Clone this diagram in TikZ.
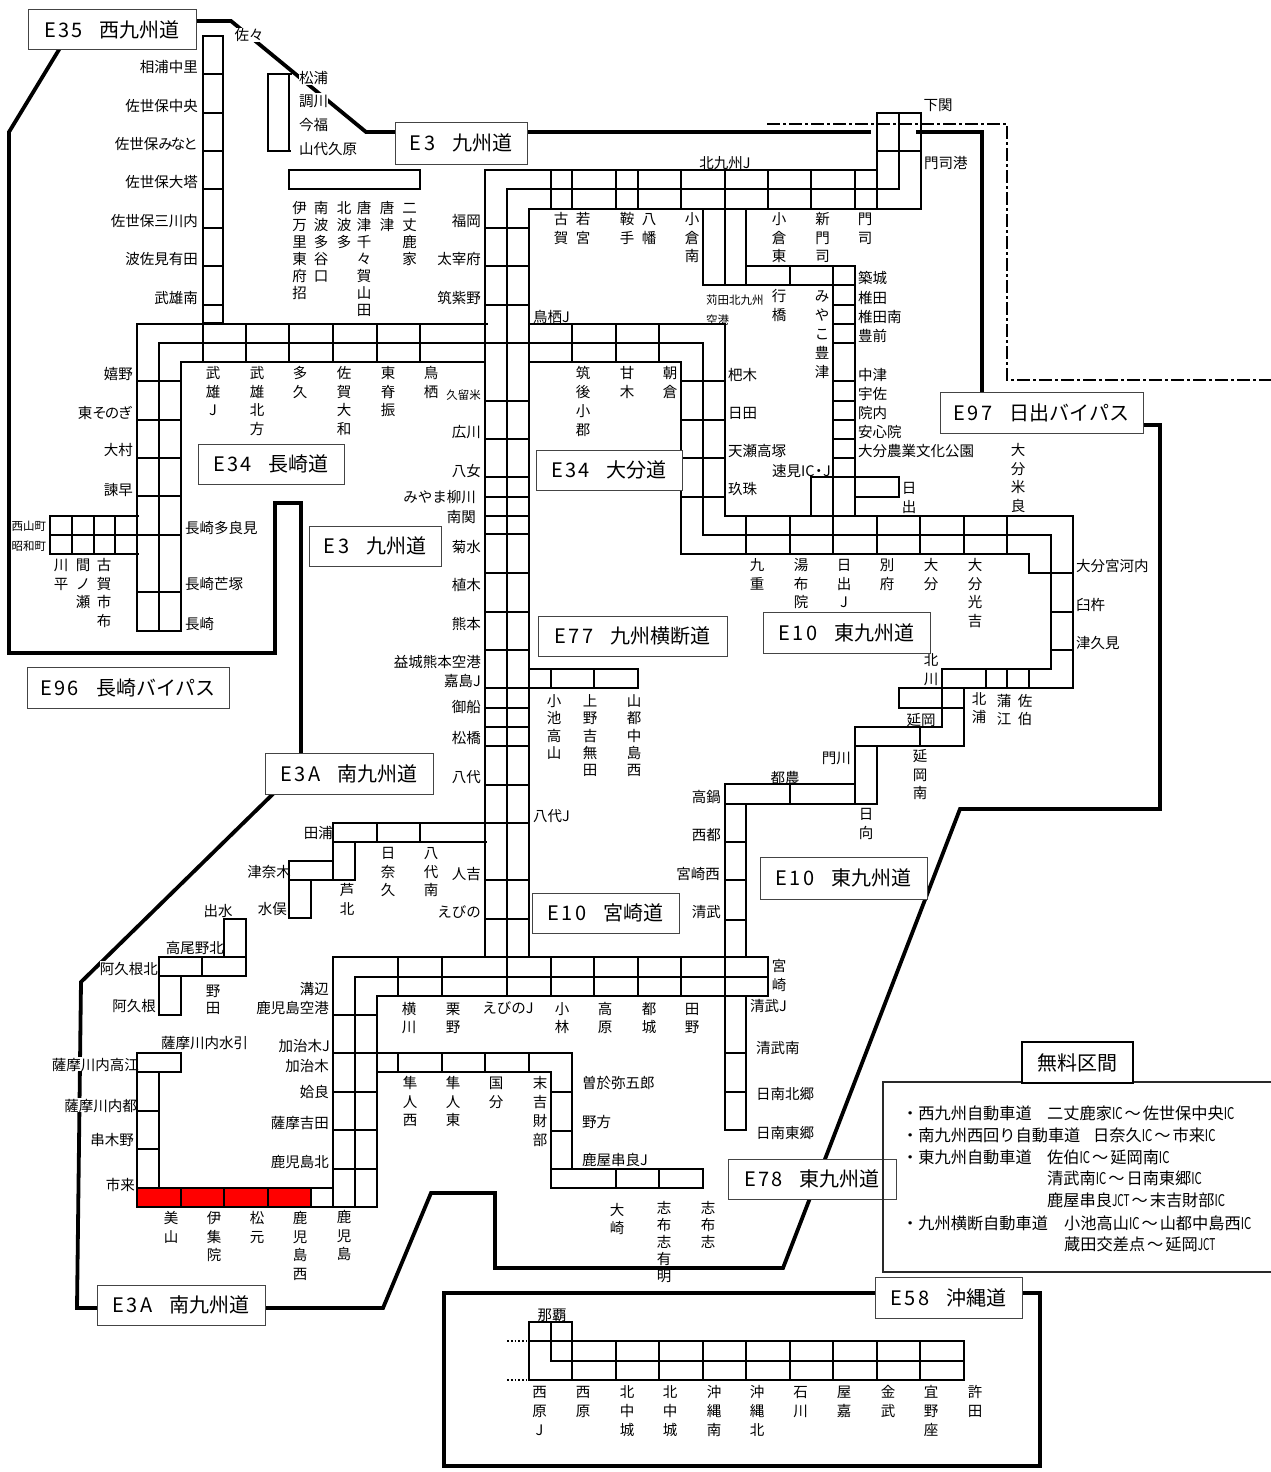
\documentclass[tikz,border=0pt]{standalone}
\usepackage{fontspec}
\setmainfont{Noto Sans CJK JP}
\newfontfamily\jpsp[LetterSpace=12]{Noto Sans CJK JP}
\newcounter{lb}
\definecolor{bxc}{HTML}{444444}
\tikzset{
  rd/.style={line width=2pt,black,line cap=rect,line join=miter},
  thk/.style={line width=3.8pt,black,line join=miter},
  lab/.style={inner sep=0pt,text height=13pt,text depth=1pt,font=\fontsize{14.5}{17}\selectfont},
  wlab/.style={lab,fill=white},
  small/.style={lab,font=\fontsize{11.5}{13}\selectfont},
  freetxt/.style={inner sep=0pt,anchor=west,text height=13pt,text depth=1pt,font=\fontsize{16.2}{20}\selectfont},
  hbox/.style={draw=bxc,line width=1pt,fill=white,inner sep=0pt,font=\fontsize{20}{24}\selectfont},
}
\newcommand{\RL}[4][]{\stepcounter{lb}\node[lab,anchor=east,#1] (L\arabic{lb}) at (#2,#3) {#4};}
\newcommand{\WL}[4][]{\stepcounter{lb}\node[lab,anchor=west,#1] (L\arabic{lb}) at (#2,#3) {#4};}
\newcommand{\CL}[4][]{\stepcounter{lb}\node[lab,#1] (L\arabic{lb}) at (#2,#3) {#4};}
\newcommand{\VL}[4]{\stepcounter{lb}\node[inner sep=0pt,anchor=north,align=center,font={\fontsize{14.5}{#3}\selectfont}] (L\arabic{lb}) at (#1,{#2-6}) {\rule{0pt}{12.5pt}#4};}
\newcommand{\BX}[7]{\node[hbox,minimum width={(#4-#2)*1pt},minimum height={(#5-#3)*1pt}] (#1) at ({(#2+#4)/2},{(#3+#5)/2}) {{\jpsp #6}\hspace{17pt}#7};}
\newcommand{\ICs}{\scalebox{0.7}[1]{IC}}
\newcommand{\JCT}{\scalebox{0.62}[1]{JCT}}
\newcommand{\wv}{\hspace{2pt}〜\hspace{2pt}}
\begin{document}
\begin{tikzpicture}[x=1pt,y=-1pt]
\useasboundingbox (0,0) rectangle (1271,1472);
\fill[white] (0,0) rectangle (1271,1472);
% red section
\fill[red] (137,1188) rectangle (311,1207);
% thick roads
\draw[thk] (60,48) -- (9,132) -- (9,653) -- (275,653) -- (275,503) -- (301,503) -- (301,760);
\draw[thk] (277,790) -- (81,982) -- (77,1308) -- (100,1308);
\draw[thk] (260,1308) -- (383,1308) -- (431,1193) -- (495,1193) -- (495,1268) -- (783,1268) -- (960,809) -- (1160,809) -- (1160,425) -- (1140,425);
\draw[thk] (190,21) -- (231,21) -- (366,132) -- (400,132);
\draw[thk] (520,132) -- (871,132);
\draw[thk] (916,132) -- (982,132) -- (982,395);
\draw[thk] (880,1293) -- (444,1293) -- (444,1466) -- (1040,1466) -- (1040,1293) -- (1018,1293);
% dash-dot border
\draw[line width=1.5pt,dash pattern=on 13pt off 3pt on 3pt off 3pt] (767,124) -- (1007,124) -- (1007,380) -- (1271,380);
% labels that interrupt the thick roads
\node[wlab,anchor=center] (sasa) at (249,35) {佐々};
\node[wlab,anchor=west] (matsuura) at (299,78) {松浦};
\node[wlab,anchor=west] (choukawa) at (299,100) {調川};
\node[wlab,anchor=east] (akunekita) at (158,968) {阿久根北};
\node[wlab,anchor=east] (takae) at (139,1064) {薩摩川内高江};
\node[wlab,anchor=east] (miyako) at (137,1105) {薩摩川内都};
% E35
\draw[rd] (203,36) rectangle (223,323);
\foreach \y in {74,113,151,189,228,266,305} \draw[rd] (203,\y) -- (223,\y);
\draw[rd] (203,323) -- (203,362);
\draw[rd] (291,74) -- (268,74) -- (268,151) -- (290,151);
\draw[rd] (289,74) -- (289,151);
\draw[rd] (289,189) -- (289,170) -- (420,170) -- (420,189);
\draw[rd] (289,189) -- (420,189);
% E3 main
\draw[rd] (485,957) -- (485,170) -- (877,170);
\draw[rd] (507,996) -- (507,189) -- (899,189);
\draw[rd] (529,957) -- (529,209) -- (921,209);
\foreach \y in {228,266,305,401,439,477,497,516,534,573,612,650,688,708,727,746,785,823,880,919}
  \draw[rd] (485,\y) -- (529,\y);
\foreach \x in {551,572,616,638,681,768,811,855}
  \draw[rd] (\x,170) -- (\x,209);
\draw[rd] (877,209) -- (877,113) -- (921,113) -- (921,209);
\draw[rd] (899,113) -- (899,189);
\draw[rd] (877,151) -- (921,151);
\draw[rd] (725,170) -- (725,285);
\draw[rd] (703,209) -- (703,285) -- (855,285);
\draw[rd] (746,209) -- (746,285);
\draw[rd] (746,266) -- (855,266);
\draw[rd] (790,266) -- (790,285);
\draw[rd] (833,266) -- (833,516);
\draw[rd] (855,266) -- (855,516);
\foreach \y in {305,324,343,381,401,420,439,458,477} \draw[rd] (833,\y) -- (855,\y);
\draw[rd] (811,516) -- (811,477) -- (899,477) -- (899,497) -- (855,497);
% E34 Nagasaki
\draw[rd] (487,324) -- (137,324) -- (137,631) -- (181,631) -- (181,362) -- (485,362);
\draw[rd] (703,535) -- (703,343) -- (159,343) -- (159,631);
\foreach \x in {246,289,333,377,420} \draw[rd] (\x,324) -- (\x,362);
\foreach \y in {381,420,458,496,592} \draw[rd] (137,\y) -- (181,\y);
\draw[rd] (181,535) -- (50,535);
\draw[rd] (138,516) -- (50,516) -- (50,554) -- (138,554);
\foreach \x in {72,94,115} \draw[rd] (\x,516) -- (\x,554);
% E34 Oita
\draw[rd] (529,324) -- (725,324) -- (725,516) -- (1073,516) -- (1073,688) -- (899,688) -- (899,708) -- (964,708);
\draw[rd] (529,362) -- (681,362) -- (681,554) -- (1029,554) -- (1029,573) -- (1073,573);
\draw[rd] (703,535) -- (1051,535) -- (1051,669) -- (942,669) -- (942,727);
\foreach \x in {572,616,659} \draw[rd] (\x,324) -- (\x,362);
\foreach \y in {381,420,458,497} \draw[rd] (681,\y) -- (725,\y);
\foreach \x in {746,790,833,877,920,964,1007} \draw[rd] (\x,516) -- (\x,554);
\foreach \y in {612,650} \draw[rd] (1051,\y) -- (1073,\y);
\foreach \x in {986,1007,1029} \draw[rd] (\x,669) -- (\x,688);
% E10 east
\draw[rd] (964,688) -- (964,746) -- (855,746) -- (855,727) -- (942,727);
\draw[rd] (920,727) -- (920,746);
\draw[rd] (855,727) -- (855,804);
\draw[rd] (877,746) -- (877,804) -- (725,804);
\draw[rd] (855,784) -- (725,784) -- (725,1130) -- (746,1130) -- (746,996);
\draw[rd] (790,784) -- (790,804);
\draw[rd] (746,804) -- (746,957);
\foreach \y in {842,880,920,1053,1092} \draw[rd] (725,\y) -- (746,\y);
% E10 Miyazaki
\draw[rd] (333,1207) -- (333,957) -- (768,957) -- (768,996) -- (377,996) -- (377,1207) -- (137,1207) -- (137,1053) -- (181,1053) -- (181,1072) -- (137,1072);
\draw[rd] (355,1207) -- (355,977) -- (768,977);
\foreach \x in {398,442,551,594,638,681} \draw[rd] (\x,957) -- (\x,996);
\foreach \y in {1015,1053,1092,1130,1169} \draw[rd] (333,\y) -- (377,\y);
\draw[rd] (137,1188) -- (333,1188);
\foreach \x in {181,224,268,311} \draw[rd] (\x,1188) -- (\x,1207);
\draw[rd] (159,1072) -- (159,1188);
\foreach \y in {1111,1149} \draw[rd] (137,\y) -- (159,\y);
% Shibushi
\draw[rd] (377,1053) -- (572,1053) -- (572,1169);
\draw[rd] (377,1072) -- (551,1072) -- (551,1188) -- (703,1188) -- (703,1169) -- (551,1169);
\foreach \x in {398,442,485,529} \draw[rd] (\x,1053) -- (\x,1072);
\foreach \y in {1092,1131} \draw[rd] (551,\y) -- (572,\y);
\foreach \x in {616,659} \draw[rd] (\x,1169) -- (\x,1188);
% E77
\draw[rd] (529,669) -- (638,669) -- (638,688);
\draw[rd] (529,688) -- (638,688);
\foreach \x in {551,594} \draw[rd] (\x,669) -- (\x,688);
% E3A
\draw[rd] (485,823) -- (333,823) -- (333,880);
\draw[rd] (486,842) -- (333,842);
\draw[rd] (355,842) -- (355,880) -- (289,880) -- (289,861) -- (333,861);
\draw[rd] (289,880) -- (289,918) -- (311,918) -- (311,880);
\foreach \x in {377,420} \draw[rd] (\x,823) -- (\x,842);
\draw[rd] (224,957) -- (224,919) -- (246,919) -- (246,976) -- (159,976) -- (159,957) -- (246,957);
\draw[rd] (202,957) -- (202,976);
\draw[rd] (159,976) -- (159,1015) -- (181,1015) -- (181,976);
% E58
\draw[rd] (529,1341) rectangle (964,1380);
\draw[rd] (529,1341) -- (529,1322) -- (572,1322) -- (572,1380);
\draw[rd] (551,1322) -- (551,1361) -- (964,1361);
\foreach \x in {616,659,703,746,790,833,877,920} \draw[rd] (\x,1341) -- (\x,1380);
\draw[line width=1.8pt,dotted] (507,1341) -- (527,1341);
\draw[line width=1.8pt,dotted] (507,1380) -- (527,1380);
% labels: E35
\RL{198}{66}{相浦中里}\RL{198}{105}{佐世保中央}\RL{198}{143}{佐世保み\kern-2pt な\kern-2pt と}\RL{198}{181}{佐世保大塔}\RL{198}{220}{佐世保三川内}\RL{198}{258}{波佐見有田}\RL{198}{297}{武雄南}
\WL{299}{124}{今福}\WL{299}{148}{山代久原}
\VL{299.5}{207}{17}{伊\\万\\里\\東\\府\\招}
\VL{321}{207}{17}{南\\波\\多\\谷\\口}
\VL{344}{207}{17}{北\\波\\多}
\VL{364}{207}{17}{唐\\津\\千\\々\\賀\\山\\田}
\VL{387}{207}{17}{唐\\津}
\VL{409.5}{207}{17}{二\\丈\\鹿\\家}
% E3 west side
\RL{481}{220}{福岡}\RL{481}{258}{太宰府}\RL{481}{297}{筑紫野}
\RL[small]{481}{393}{久留米}
\RL{481}{431}{広川}\RL{481}{470}{八女}\RL{476}{496}{みやま柳川}\RL{476}{516}{南関}\RL{481}{546}{菊水}\RL{481}{584}{植木}\RL{481}{623}{熊本}\RL{481}{661}{益城熊本空港}\RL{481}{680}{嘉島J}\RL{481}{706}{御船}\RL{481}{737}{松橋}\RL{481}{776}{八代}
\RL{333}{832}{田浦}\RL{481}{873}{人吉}\RL{481}{911}{えびの}
% E34 Nagasaki
\VL{213}{372}{18.6}{武\\雄\\J}
\VL{257}{372}{18.6}{武\\雄\\北\\方}
\VL{300}{372}{18.6}{多\\久}
\VL{344}{372}{18.6}{佐\\賀\\大\\和}
\VL{388}{372}{18.6}{東\\脊\\振}
\VL{431}{372}{18.6}{鳥\\栖}
\RL{133}{373}{嬉野}\RL{133}{412}{東そ\kern-2pt の\kern-1pt ぎ}\RL{133}{449}{大村}\RL{133}{489}{諫早}
\CL[small]{29}{524}{西山町}\CL[small]{29}{544}{昭和町}
\VL{61}{564}{18.6}{川\\平}
\VL{83}{564}{18.6}{間\\ノ\\瀬}
\VL{104}{564}{18.6}{古\\賀\\市\\布}
\WL{185}{527}{長崎多良見}\WL{185}{583}{長崎芒塚}\WL{185}{623}{長崎}
% north
\CL{725}{162}{北九州J}\WL{924}{162}{門司港}\CL{938}{104}{下関}
\VL{561}{218}{18.6}{古\\賀}
\VL{583}{218}{18.6}{若\\宮}
\VL{627}{218}{18.6}{鞍\\手}
\VL{649}{218}{18.6}{八\\幡}
\VL{692}{218}{18.6}{小\\倉\\南}
\VL{779}{218}{18.6}{小\\倉\\東}
\VL{822.5}{218}{18.6}{新\\門\\司}
\VL{865}{218}{18.6}{門\\司}
\WL[small]{706}{298}{苅田北九州}\WL[small]{706}{318}{空港}
\VL{779}{295}{19}{行\\橋}
\VL{822}{295}{19}{み\\や\\こ\\豊\\津}
\WL{858}{277}{築城}\WL{858}{297}{椎田}\WL{858}{316}{椎田南}\WL{858}{335}{豊前}\WL{858}{374}{中津}\WL{858}{393}{宇佐}\WL{858}{412}{院内}\WL{858}{431}{安心院}\WL{858}{450}{大分農業文化公園}
\WL{533}{316}{鳥栖J}
\VL{583}{372}{19}{筑\\後\\小\\郡}
\VL{627}{372}{19}{甘\\木}
\VL{670}{372}{19}{朝\\倉}
\WL{728}{374}{杷木}\WL{728}{412}{日田}\WL{728}{450}{天瀬高塚}\WL{728}{488}{玖珠}
\RL{831}{470}{速見IC\kern-3pt ・\kern-3pt J}
\VL{909}{487}{19}{日\\出}
% Oita
\VL{757}{564}{18.6}{九\\重}
\VL{801}{564}{18.6}{湯\\布\\院}
\VL{844}{564}{18.6}{日\\出\\J}
\VL{887}{564}{18.6}{別\\府}
\VL{931}{564}{18.6}{大\\分}
\VL{975}{564}{18.6}{大\\分\\光\\吉}
\VL{1018}{449}{18.6}{大\\分\\米\\良}
\WL{1076}{565}{大分宮河内}\WL{1076}{604}{臼杵}\WL{1076}{642}{津久見}
\VL{931}{659}{19}{北\\川}
\VL{979}{698}{18}{北\\浦}
\VL{1004}{700}{18}{蒲\\江}
\VL{1025}{700}{18}{佐\\伯}
\CL{921}{719}{延岡}
\VL{920}{755}{18.6}{延\\岡\\南}
\RL{851}{757}{門川}\CL{785}{777}{都農}
\RL{721}{796}{高鍋}\RL{721}{834}{西都}\RL{720}{873}{宮崎西}\RL{721}{911}{清武}
\VL{866}{813}{19}{日\\向}
% E77
\VL{554}{700}{17.2}{小\\池\\高\\山}
\VL{590}{700}{17.2}{上\\野\\吉\\無\\田}
\VL{634}{700}{17.2}{山\\都\\中\\島\\西}
\WL{533}{815}{八代J}
\VL{779}{965}{19}{宮\\崎}
% Miyazaki
\VL{409}{1008}{17.6}{横\\川}
\VL{453}{1008}{17.6}{栗\\野}
\CL{508}{1007}{えびのJ}
\VL{562}{1008}{17.6}{小\\林}
\VL{605}{1008}{17.6}{高\\原}
\VL{649}{1008}{17.6}{都\\城}
\VL{692}{1008}{17.6}{田\\野}
\WL{750}{1005}{清武J}\WL{756}{1047}{清武南}\WL{756}{1093}{日南北郷}\WL{756}{1132}{日南東郷}
\RL{329}{988}{溝辺}\RL{329}{1007}{鹿児島空港}\RL{330}{1045}{加治木J}\RL{329}{1065}{加治木}\RL{329}{1091}{姶良}\RL{329}{1122}{薩摩吉田}\RL{329}{1161}{鹿児島北}
% E3A
\VL{388}{852}{18.6}{日\\奈\\久}
\VL{431}{852}{18.6}{八\\代\\南}
\VL{347}{889}{18.6}{芦\\北}
\RL{291}{871}{津奈木}\RL{287}{908}{水俣}
\CL{218}{910}{出水}\RL{224}{947}{高尾野北}\RL{156}{1005}{阿久根}
\VL{213}{990}{16.5}{野\\田}
\WL{161}{1042}{薩摩川内水引}
\RL{134}{1139}{串木野}\RL{135}{1184}{市来}
\VL{171}{1217}{18.6}{美\\山}
\VL{214}{1217}{18.6}{伊\\集\\院}
\VL{257}{1217}{18.6}{松\\元}
\VL{300}{1217}{18.6}{鹿\\児\\島\\西}
\VL{344}{1216}{18.6}{鹿\\児\\島}
\VL{410}{1082}{18.6}{隼\\人\\西}
\VL{453}{1082}{18.6}{隼\\人\\東}
\VL{496}{1082}{18.6}{国\\分}
\VL{540}{1082}{19}{末\\吉\\財\\部}
\WL{582}{1082}{曽於弥五郎}\WL{582}{1121}{野方}\WL{582}{1159}{鹿屋串良J}
\VL{617}{1209}{18}{大\\崎}
\VL{664}{1207}{17}{志\\布\\志\\有\\明}
\VL{708}{1207}{17}{志\\布\\志}
% Okinawa
\CL{552}{1314}{那覇}
\VL{539.5}{1391}{19}{西\\原\\J}
\VL{583}{1391}{19}{西\\原}
\VL{627}{1391}{19}{北\\中\\城}
\VL{670}{1391}{19}{北\\中\\城}
\VL{714}{1391}{19}{沖\\縄\\南}
\VL{757}{1391}{19}{沖\\縄\\北}
\VL{800.5}{1391}{19}{石\\川}
\VL{844}{1391}{19}{屋\\嘉}
\VL{888}{1391}{19}{金\\武}
\VL{931}{1391}{19}{宜\\野\\座}
\VL{975}{1391}{19}{許\\田}
% boxes
\BX{bE35}{28}{10}{196}{50}{E35}{西九州道}
\BX{bE3a}{395}{122}{527}{164}{E3}{九州道}
\BX{bE34n}{198}{444}{344}{484}{E34}{長崎道}
\BX{bE3b}{309}{526}{441}{566}{E3}{九州道}
\BX{bE96}{27}{667}{229}{708}{E96}{長崎バイパス}
\BX{bE3Aa}{265}{753}{433}{794}{E3A}{南九州道}
\BX{bE34o}{536}{450}{682}{490}{E34}{大分道}
\BX{bE77}{538}{616}{727}{656}{E77}{九州横断道}
\BX{bE10a}{763}{612}{930}{653}{E10}{東九州道}
\BX{bE97}{940}{392}{1143}{433}{E97}{日出バイパス}
\BX{bE10b}{760}{857}{927}{899}{E10}{東九州道}
\BX{bE10m}{532}{893}{679}{933}{E10}{宮崎道}
\BX{bE78}{728}{1159}{896}{1199}{E78}{東九州道}
\BX{bE3Ab}{97}{1285}{265}{1325}{E3A}{南九州道}
\BX{bE58}{875}{1277}{1022}{1318}{E58}{沖縄道}
% free section
\draw[line width=2pt,bxc!60!black] (1271,1082) -- (883,1082) -- (883,1272) -- (1271,1272);
\node[draw=black,line width=2pt,fill=white,inner sep=0pt,minimum width=111pt,minimum height=41pt,font=\fontsize{20}{24}\selectfont] (free) at (1077.5,1062.5) {無料区間};
\node[freetxt] (f1a) at (902,1113) {・西九州自動車道};
\node[freetxt] (f1b) at (1047,1113) {二丈鹿家\ICs\wv 佐世保中央\ICs};
\node[freetxt] (f2a) at (902,1135) {・南九州西回り自動車道};
\node[freetxt] (f2b) at (1093,1135) {日奈久\ICs\wv 市来\ICs};
\node[freetxt] (f3a) at (902,1157) {・東九州自動車道};
\node[freetxt] (f3b) at (1047,1157) {佐伯\ICs\wv 延岡南\ICs};
\node[freetxt] (f4) at (1047,1178) {清武南\ICs\wv 日南東郷\ICs};
\node[freetxt] (f5) at (1047,1200) {鹿屋串良\JCT\wv 末吉財部\ICs};
\node[freetxt] (f6a) at (902,1223) {・九州横断自動車道};
\node[freetxt] (f6b) at (1064,1223) {小池高山\ICs\wv 山都中島西\ICs};
\node[freetxt] (f7) at (1064,1244) {蔵田交差点\wv 延岡\JCT};
\end{tikzpicture}
\end{document}
